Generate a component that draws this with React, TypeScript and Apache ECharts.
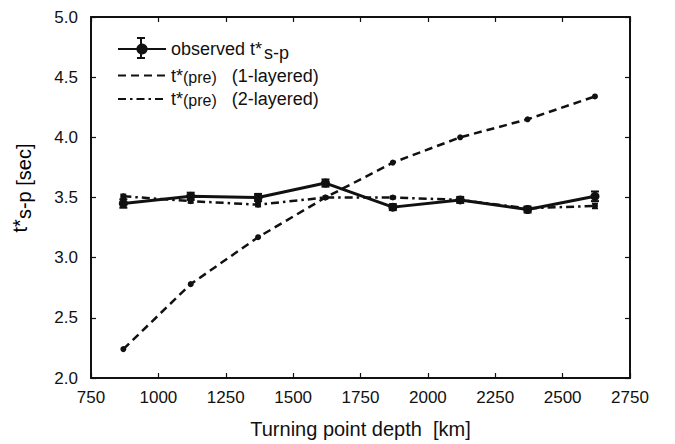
import React, { useEffect, useRef } from "react";
import * as echarts from "echarts";

const depths = [870, 1120, 1370, 1620, 1870, 2120, 2370, 2620];
const observed = [3.45, 3.51, 3.5, 3.62, 3.42, 3.48, 3.4, 3.51];
const observedErr = [0.035, 0.03, 0.03, 0.03, 0.025, 0.025, 0.025, 0.04];
const pre1 = [2.24, 2.78, 3.17, 3.5, 3.79, 4.0, 4.15, 4.34];
const pre2 = [3.51, 3.47, 3.44, 3.5, 3.5, 3.48, 3.41, 3.43];
const pre2Err = [0.015, 0.015, 0.015, 0.01, 0.01, 0.01, 0.015, 0.02];

const FONT = "Liberation Sans, Arial, sans-serif";

export default function App() {
  const ref = useRef<HTMLDivElement>(null);
  useEffect(() => {
    if (!ref.current) return;
    const chart = echarts.init(ref.current, undefined, { renderer: "svg" });
    const errData = depths.map((d, i) => [d, observed[i] - observedErr[i], observed[i] + observedErr[i]]);
    const err2Data = depths.map((d, i) => [d, pre2[i] - pre2Err[i], pre2[i] + pre2Err[i]]);
    const errRender = (cap: number, w: number) => (params: any, api: any) => {
      const x = api.value(0);
      const lo = api.coord([x, api.value(1)]);
      const hi = api.coord([x, api.value(2)]);
      const style = { stroke: "#111", lineWidth: w };
      return {
        type: "group",
        children: [
          { type: "line", shape: { x1: lo[0], y1: lo[1], x2: hi[0], y2: hi[1] }, style },
          { type: "line", shape: { x1: lo[0] - cap, y1: lo[1], x2: lo[0] + cap, y2: lo[1] }, style },
          { type: "line", shape: { x1: hi[0] - cap, y1: hi[1], x2: hi[0] + cap, y2: hi[1] }, style },
        ],
      };
    };
    const axisCommon = {
      axisLine: { show: true, lineStyle: { color: "#111", width: 2 } },
      axisTick: { show: true, inside: true, length: 5, lineStyle: { color: "#111", width: 1.2 } },
      splitLine: { show: false },
    };
    const rich = {
      a: { fontSize: 18, fontFamily: FONT, color: "#111" },
      s: { fontSize: 18, fontFamily: FONT, color: "#111", padding: [7, 0, 0, 2] },
      p: { fontSize: 16, fontFamily: FONT, color: "#111", padding: [3, 0, 0, 0] },
    };
    const richY = {
      a: { fontSize: 20, fontFamily: FONT, color: "#111", padding: [0, 0, 8, 0] },
      s: { fontSize: 20, fontFamily: FONT, color: "#111" },
    };
    const capStyle = { stroke: "#111", lineWidth: 2 };
    chart.setOption({
      animation: false,
      backgroundColor: "#fff",
      grid: { left: 91, right: 45, top: 17, bottom: 65 },
      legend: {
        orient: "vertical",
        left: 112,
        top: 35,
        itemWidth: 48,
        itemHeight: 14,
        itemGap: 5,
        data: [
          { name: "obs" },
          { name: "pre1", itemStyle: { opacity: 0 } },
          { name: "pre2", itemStyle: { opacity: 0 } },
        ],
        formatter: (n: string) =>
          n === "obs"
            ? "{a|observed t*}{s|s-p}"
            : n === "pre1"
            ? "{a|t*}{p|(pre)}{a|   (1-layered)}"
            : "{a|t*}{p|(pre)}{a|   (2-layered)}",
        textStyle: { rich, fontSize: 18, fontFamily: FONT, color: "#111" },
      },
      graphic: [
        {
          type: "text",
          x: 24,
          y: 188,
          rotation: Math.PI / 2,
          style: {
            text: "{a|t*}{s|s-p [sec]}",
            rich: richY,
            align: "center",
            verticalAlign: "middle",
          },
        },
        { type: "line", z: 100, shape: { x1: 141, y1: 38, x2: 141, y2: 58 }, style: capStyle },
        { type: "line", z: 100, shape: { x1: 137, y1: 38, x2: 145, y2: 38 }, style: capStyle },
        { type: "line", z: 100, shape: { x1: 137, y1: 58, x2: 145, y2: 58 }, style: capStyle },
      ],
      xAxis: [
        {
          type: "value",
          min: 750,
          max: 2750,
          interval: 250,
          ...axisCommon,
          axisLabel: {
            fontSize: 17,
            fontFamily: FONT,
            color: "#111",
            margin: 11,
            formatter: (v: number) => String(v),
          },
          name: "Turning point depth  [km]",
          nameLocation: "middle",
          nameGap: 41,
          nameTextStyle: { fontSize: 20, fontFamily: FONT, color: "#111" },
        },
        {
          type: "value",
          position: "top",
          min: 750,
          max: 2750,
          interval: 250,
          ...axisCommon,
          axisLabel: { show: false },
        },
      ],
      yAxis: [
        {
          type: "value",
          min: 2.0,
          max: 5.0,
          interval: 0.5,
          ...axisCommon,
          axisLabel: {
            fontSize: 17,
            fontFamily: FONT,
            color: "#111",
            margin: 13,
            formatter: (v: number) => v.toFixed(1),
          },
        },
        {
          type: "value",
          position: "right",
          min: 2.0,
          max: 5.0,
          interval: 0.5,
          ...axisCommon,
          axisLabel: { show: false },
        },
      ],
      series: [
        {
          name: "pre1",
          type: "line",
          data: depths.map((d, i) => [d, pre1[i]]),
          symbol: "circle",
          symbolSize: 6,
          itemStyle: { color: "#111" },
          lineStyle: { color: "#111", width: 2.5, type: [8, 5] },
          z: 3,
        },
        {
          name: "pre2",
          type: "line",
          data: depths.map((d, i) => [d, pre2[i]]),
          symbol: "circle",
          symbolSize: 6,
          itemStyle: { color: "#111" },
          lineStyle: { color: "#111", width: 2.5, type: [8, 4, 2.5, 4] },
          z: 3,
        },
        {
          name: "pre2err",
          type: "custom",
          data: err2Data,
          renderItem: errRender(3, 1.8),
          encode: { x: 0, y: [1, 2] },
          z: 4,
          silent: true,
        },
        {
          name: "obs",
          type: "line",
          data: depths.map((d, i) => [d, observed[i]]),
          symbol: "circle",
          symbolSize: 9,
          itemStyle: { color: "#111" },
          lineStyle: { color: "#111", width: 3 },
          z: 5,
        },
        {
          name: "obserr",
          type: "custom",
          data: errData,
          renderItem: errRender(4, 2),
          encode: { x: 0, y: [1, 2] },
          z: 6,
          silent: true,
        },
      ],
    });
    return () => chart.dispose();
  }, []);
  return <div ref={ref} style={{ width: 675, height: 444, position: "absolute", left: 0, top: 0 }} />;
}
